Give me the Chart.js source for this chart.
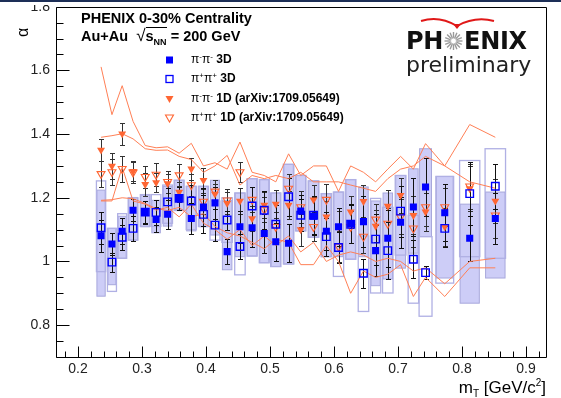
<!DOCTYPE html>
<html>
<head>
<meta charset="utf-8">
<script src="https://cdn.jsdelivr.net/npm/chart.js"></script>
<style>
  html, body { margin: 0; padding: 0; background: #fff; }
  #wrap { position: relative; width: 561px; height: 398px; overflow: hidden; font-family: "Liberation Sans", Arial, sans-serif; }
  #myChart { position: absolute; left: 0; top: 0; }
  .txt { position: absolute; white-space: nowrap; color: #000; }
  .leg { position: absolute; left: 164px; height: 15px; line-height: 15px; font-size: 12px; font-weight: bold; white-space: nowrap; }
  .leg svg { position: absolute; left: 0; top: 2.5px; }
  .leg span.l { position: absolute; left: 27px; top: 0; }
  .leg sup { font-size: 8px; vertical-align: 4px; line-height: 0; }
  .pi { font-weight: normal; }
</style>
</head>
<body>
<div id="wrap">
  <canvas id="myChart" width="561" height="398"></canvas>
  <div style="position:absolute;left:0;top:0;width:561px;height:5px;background:#fff;"></div>
  <div style="position:absolute;left:0;top:0;width:561px;height:2px;background:#1d2f57;"></div>

  <div class="txt" style="left:81px;top:10px;font-size:14.5px;line-height:16px;font-weight:bold;">PHENIX 0-30% Centrality</div>
  <div class="txt" style="left:81px;top:28px;font-size:14.5px;line-height:16px;font-weight:bold;">Au+Au&nbsp;&nbsp;<span style="font-weight:normal;font-size:17px;">&radic;</span><span style="border-top:1px solid #000;">s<sub style="font-size:9px;">NN</sub></span> = 200 GeV</div>

  <div class="leg" style="top:52px;"><svg width="12" height="10"><rect x="2" y="1.5" width="7" height="7" fill="#0000ff"/></svg><span class="l"><span class="pi">&pi;<sup>-</sup>&pi;<sup>-</sup></span> 3D</span></div>
  <div class="leg" style="top:71px;"><svg width="12" height="10"><rect x="2" y="1.5" width="7" height="7" fill="none" stroke="#0000ff" stroke-width="1.3"/></svg><span class="l"><span class="pi">&pi;<sup>+</sup>&pi;<sup>+</sup></span> 3D</span></div>
  <div class="leg" style="top:91px;"><svg width="12" height="10"><path d="M1.5 2 L9.5 2 L5.5 9 Z" fill="#ff6633"/></svg><span class="l"><span class="pi">&pi;<sup>-</sup>&pi;<sup>-</sup></span> 1D (arXiv:1709.05649)</span></div>
  <div class="leg" style="top:110px;"><svg width="12" height="10"><path d="M1.5 2 L9.5 2 L5.5 9 Z" fill="none" stroke="#ff6633" stroke-width="1.1"/></svg><span class="l"><span class="pi">&pi;<sup>+</sup>&pi;<sup>+</sup></span> 1D (arXiv:1709.05649)</span></div>

  <svg style="position:absolute;left:415px;top:13px;" width="85" height="18">
    <path d="M6 8 Q24 2 42 13 Q60 3 79 8" fill="none" stroke="#e01818" stroke-width="2"/>
    <path d="M38 11 L46 11 L42 16 Z" fill="#e01818"/>
  </svg>
  <div class="txt" style="left:406px;top:27px;font-family:'DejaVu Sans';font-weight:bold;font-size:24px;line-height:28px;color:#111;letter-spacing:-0.3px;">PH<svg width="21" height="20" style="vertical-align:-2px;" viewBox="-10 -10 20 20"><g stroke="#9a9a9a" stroke-width="1.4"><line x1="0" y1="-9" x2="0" y2="9"/><line x1="-9" y1="0" x2="9" y2="0"/><line x1="-6.4" y1="-6.4" x2="6.4" y2="6.4"/><line x1="-6.4" y1="6.4" x2="6.4" y2="-6.4"/><line x1="-3.4" y1="-8.3" x2="3.4" y2="8.3"/><line x1="3.4" y1="-8.3" x2="-3.4" y2="8.3"/><line x1="-8.3" y1="-3.4" x2="8.3" y2="3.4"/><line x1="-8.3" y1="3.4" x2="8.3" y2="-3.4"/></g><circle r="3" fill="#fff" stroke="#bbb" stroke-width="1"/></svg>ENIX</div>
  <div class="txt" style="left:406px;top:52px;font-family:'DejaVu Sans';font-size:22px;line-height:26px;color:#222;">preliminary</div>

  <div class="txt" style="left:16px;top:22px;font-size:16px;line-height:16px;transform:rotate(-90deg);transform-origin:7px 8px;">&alpha;</div>
  <div class="txt" style="right:15px;top:373px;font-size:17px;line-height:20px;">m<sub style="font-size:10px;">T</sub> [GeV/c<sup style="font-size:10px;">2</sup>]</div>
</div>

<script>
// tick labels
const xTicks = [0.2, 0.3, 0.4, 0.5, 0.6, 0.7, 0.8, 0.9];
const yTicks = [0.8, 1.0, 1.2, 1.4, 1.6, 1.8];

// bins (mT, GeV/c^2)
const mT = [0.236, 0.253, 0.269, 0.286, 0.305, 0.322, 0.340, 0.358, 0.377, 0.396, 0.414, 0.433, 0.453, 0.472, 0.491, 0.509,
  0.529, 0.548, 0.568, 0.588, 0.607, 0.626, 0.646, 0.665, 0.684, 0.704, 0.724, 0.743, 0.773, 0.812, 0.852];

// pi-pi- 3D
const alphaMM3D = [1.081, 1.055, 1.095, 1.161, 1.154, 1.132, 1.148, 1.198, 1.135, 1.171, 1.184, 1.031, 1.109, 1.106, 1.088, 1.062,
  1.057, 1.158, 1.142, 1.095, 1.109, 1.119, 1.125, 1.034, 1.073, 1.123, 1.171, 1.234, 1.153, 1.073, 1.135];
const errMM3D = [0.05, 0.035, 0.04, 0.035, 0.035, 0.04, 0.045, 0.035, 0.05, 0.06, 0.05, 0.04, 0.05, 0.06, 0.06, 0.06,
  0.06, 0.05, 0.06, 0.06, 0.06, 0.06, 0.08, 0.08, 0.09, 0.08, 0.09, 0.09, 0.09, 0.07, 0.08];
const sysLoMM3D = [0.891, 0.927, 1.010, 1.067, 1.109, 1.090, 1.111, 1.163, 1.096, 1.109, 1.083, 0.974, 1.015, 1.017, 0.996, 0.984,
  0.992, 1.096, 1.076, 1.015, 1.015, 1.007, 1.015, 0.924, 0.945, 0.979, 1.026, 1.078, 0.948, 0.869, 0.948];
const sysHiMM3D = [1.224, 1.104, 1.142, 1.201, 1.208, 1.192, 1.236, 1.255, 1.236, 1.236, 1.255, 1.192, 1.215, 1.260, 1.257, 1.215,
  1.305, 1.270, 1.253, 1.213, 1.218, 1.257, 1.234, 1.190, 1.215, 1.270, 1.291, 1.354, 1.267, 1.180, 1.218];

// pi+pi+ 3D
const alphaPP3D = [1.106, 0.998, 1.076, 1.104, 1.155, 1.154, 1.187, 1.198, 1.190, 1.148, 1.114, 1.130, 1.047, 1.174, 1.161, 1.117,
  1.203, 1.145, 1.145, 1.078, 1.044, 1.117, 0.963, 1.070, 1.034, 1.158, 1.007, 0.965, 1.104, 1.213, 1.236];
const errPP3D = [0.05, 0.03, 0.04, 0.04, 0.035, 0.04, 0.045, 0.035, 0.05, 0.06, 0.05, 0.03, 0.04, 0.06, 0.06, 0.06,
  0.06, 0.05, 0.06, 0.06, 0.05, 0.06, 0.045, 0.08, 0.09, 0.08, 0.06, 0.02, 0.06, 0.10, 0.07];
const sysLoPP3D = [0.968, 0.906, 1.010, 1.067, 1.110, 1.110, 1.120, 1.160, 1.100, 1.110, 1.067, 1.060, 0.958, 1.017, 0.996, 0.984,
  0.992, 1.096, 1.076, 1.015, 0.953, 1.007, 0.843, 0.901, 0.901, 1.020, 0.869, 0.828, 0.932, 1.015, 1.010];
const sysHiPP3D = [1.253, 1.104, 1.150, 1.200, 1.210, 1.210, 1.240, 1.255, 1.236, 1.236, 1.190, 1.200, 1.215, 1.260, 1.257, 1.215,
  1.305, 1.270, 1.253, 1.213, 1.218, 1.257, 1.080, 1.198, 1.170, 1.270, 1.145, 1.078, 1.267, 1.317, 1.354];

// pi-pi- 1D (arXiv:1709.05649)
const alphaMM1D = [1.350, 1.300, 1.401, 1.283, 1.242, 1.248, 1.245, 1.218, 1.291, 1.255, 1.212, 1.183, 1.190, 1.135, 1.177, 1.180,
  1.177, 1.100, 1.194, 1.140, 1.109, 1.156, 1.189, 1.111, 1.174, 1.208, 1.145, 1.156, 1.109, 1.229, 1.190];
const errMM1D = [0.035, 0.04, 0.035, 0.03, 0.035, 0.03, 0.03, 0.03, 0.035, 0.04, 0.03, 0.035, 0.04, 0.04, 0.04, 0.045,
  0.045, 0.05, 0.045, 0.05, 0.05, 0.05, 0.05, 0.05, 0.05, 0.055, 0.06, 0.06, 0.06, 0.07, 0.07];
const sysHiMM1D = [1.611, 1.461, 1.552, 1.440, 1.364, 1.357, 1.360, 1.340, 1.371, 1.300, 1.310, 1.290, 1.375, 1.280, 1.270, 1.250,
  1.338, 1.270, 1.300, 1.300, 1.220, 1.300, 1.280, 1.250, 1.290, 1.330, 1.290, 1.370, 1.300, 1.430, 1.390];
const sysLoMM1D = [1.192, 1.194, 1.200, 1.197, 1.182, 1.166, 1.160, 1.170, 1.140, 1.150, 1.110, 1.090, 1.080, 1.060, 1.040, 1.070,
  1.060, 0.990, 0.990, 1.050, 1.000, 0.900, 0.970, 0.950, 0.960, 0.990, 0.890, 0.950, 0.890, 0.980, 0.980];

// pi+pi+ 1D (arXiv:1709.05649)
const alphaPP1D = [1.275, 1.281, 1.291, 1.280, 1.266, 1.273, 1.250, 1.271, 1.240, 1.188, 1.220, 1.192, 1.281, 1.194, 1.163, 1.109,
  1.229, 1.171, 1.109, 1.194, 1.047, 1.109, 1.078, 1.132, 1.119, 1.140, 1.104, 1.171, 1.171, 1.236, 1.145];
const errPP1D = [0.04, 0.04, 0.04, 0.035, 0.035, 0.035, 0.035, 0.035, 0.035, 0.04, 0.035, 0.035, 0.03, 0.04, 0.04, 0.045,
  0.045, 0.05, 0.045, 0.05, 0.05, 0.05, 0.05, 0.05, 0.05, 0.055, 0.06, 0.06, 0.06, 0.07, 0.07];
const sysHiPP1D = [1.390, 1.395, 1.401, 1.385, 1.354, 1.349, 1.350, 1.330, 1.320, 1.280, 1.300, 1.333, 1.240, 1.270, 1.260, 1.270,
  1.260, 1.280, 1.250, 1.250, 1.250, 1.240, 1.230, 1.220, 1.260, 1.290, 1.300, 1.330, 1.300, 1.250, 1.230];
const sysLoPP1D = [1.190, 1.190, 1.296, 1.190, 1.180, 1.161, 1.170, 1.140, 1.180, 1.120, 1.100, 1.070, 1.100, 1.050, 1.080, 1.050,
  1.080, 1.030, 1.060, 1.000, 1.020, 1.030, 1.020, 1.000, 1.010, 1.000, 0.970, 0.980, 0.930, 1.000, 1.010];

const pts = (ys) => mT.map((x, i) => ({ x: x, y: ys[i] }));

const BLUE = "#0000ff";
const ORANGE = "#ff6633";
const LINE = "#ff7f55";

// systematic boxes + stat error bars, drawn under the markers
const boxesAndBars = {
  id: "boxesAndBars",
  beforeDatasetsDraw(chart) {
    const { ctx, scales: { x, y } } = chart;
    const px = mT.map((v) => x.getPixelForValue(v));
    const halfW = (i) => {
      const d = [];
      if (i > 0) d.push(px[i] - px[i - 1]);
      if (i < px.length - 1) d.push(px[i + 1] - px[i]);
      return 0.38 * d.reduce((a, b) => a + b, 0) / d.length;
    };
    ctx.save();
    ctx.lineWidth = 1;
    mT.forEach((v, i) => {
      const w = halfW(i);
      const t = y.getPixelForValue(sysHiMM3D[i]);
      const b = y.getPixelForValue(sysLoMM3D[i]);
      ctx.fillStyle = "#cdcdf7";
      ctx.fillRect(px[i] - w, t, 2 * w, b - t);
      ctx.strokeStyle = "#a8a8dc";
      ctx.strokeRect(px[i] - w, t, 2 * w, b - t);
    });
    mT.forEach((v, i) => {
      const w = halfW(i) + 0.5;
      const t = y.getPixelForValue(sysHiPP3D[i]);
      const b = y.getPixelForValue(sysLoPP3D[i]);
      ctx.strokeStyle = "#b0b0e4";
      ctx.lineWidth = 1.3;
      ctx.strokeRect(px[i] - w, t, 2 * w, b - t);
    });
    const series = [
      [alphaMM1D, errMM1D, "#333"],
      [alphaPP1D, errPP1D, "#333"],
      [alphaMM3D, errMM3D, "#111"],
      [alphaPP3D, errPP3D, "#111"],
    ];
    ctx.lineWidth = 1;
    series.forEach(([vals, errs, col]) => {
      ctx.strokeStyle = col;
      ctx.beginPath();
      vals.forEach((v, i) => {
        const cx = Math.round(px[i]) + 0.5;
        const t = Math.round(y.getPixelForValue(v + errs[i])) + 0.5;
        const b = Math.round(y.getPixelForValue(v - errs[i])) + 0.5;
        ctx.moveTo(cx, t); ctx.lineTo(cx, b);
        ctx.moveTo(cx - 2.5, t); ctx.lineTo(cx + 2.5, t);
        ctx.moveTo(cx - 2.5, b); ctx.lineTo(cx + 2.5, b);
      });
      ctx.stroke();
    });
    ctx.restore();
  },
};

// ROOT-like frame with ticks pointing inward
const frameTicks = {
  id: "frameTicks",
  afterDatasetsDraw(chart) {
    const { ctx, chartArea: a, scales: { x, y } } = chart;
    ctx.save();
    ctx.strokeStyle = "#000";
    ctx.lineWidth = 1;
    const L = Math.round(a.left) + 0.5, R = Math.round(a.right) + 0.5;
    const T = Math.round(a.top) + 0.5, B = Math.round(a.bottom) + 0.5;
    ctx.beginPath();
    ctx.rect(L, T, R - L, B - T);
    for (let k = 14; k <= 36; k++) {
      const py = Math.round(y.getPixelForValue(k * 0.05)) + 0.5;
      const len = k % 4 === 0 ? 13 : 7;
      ctx.moveTo(L, py); ctx.lineTo(L + len, py);
    }
    for (let k = 9; k <= 46; k++) {
      const xx = Math.round(x.getPixelForValue(k * 0.02)) + 0.5;
      const len = k % 5 === 0 ? 11 : 6;
      ctx.moveTo(xx, B); ctx.lineTo(xx, B - len);
    }
    ctx.stroke();
    ctx.restore();
  },
};

const ctx = document.getElementById("myChart");

const myChart = new Chart(ctx, {
  type: "scatter",
  data: {
    datasets: [
      { label: "pi-pi- 3D", data: pts(alphaMM3D), pointStyle: "rect", pointRadius: 5, backgroundColor: BLUE, borderColor: BLUE, borderWidth: 0 },
      { label: "pi+pi+ 3D", data: pts(alphaPP3D), pointStyle: "rect", pointRadius: 5.3, backgroundColor: "rgba(0,0,0,0)", borderColor: BLUE, borderWidth: 1.4 },
      { label: "pi-pi- 1D", data: pts(alphaMM1D), pointStyle: "triangle", rotation: 180, pointRadius: 4.6, backgroundColor: ORANGE, borderColor: ORANGE, borderWidth: 0 },
      { label: "pi+pi+ 1D", data: pts(alphaPP1D), pointStyle: "triangle", rotation: 180, pointRadius: 4.6, backgroundColor: "rgba(0,0,0,0)", borderColor: ORANGE, borderWidth: 1.1 },
      { label: "pi-pi- 1D sys hi", data: pts(sysHiMM1D), showLine: true, pointRadius: 0, borderColor: LINE, borderWidth: 1 },
      { label: "pi-pi- 1D sys lo", data: pts(sysLoMM1D), showLine: true, pointRadius: 0, borderColor: LINE, borderWidth: 1 },
      { label: "pi+pi+ 1D sys hi", data: pts(sysHiPP1D), showLine: true, pointRadius: 0, borderColor: LINE, borderWidth: 1 },
      { label: "pi+pi+ 1D sys lo", data: pts(sysLoPP1D), showLine: true, pointRadius: 0, borderColor: LINE, borderWidth: 1 },
    ],
  },
  options: {
    responsive: false,
    animation: false,
    devicePixelRatio: 1,
    layout: { padding: { left: 0, top: 5, right: 15, bottom: 0 } },
    plugins: {
      legend: { display: false },
      tooltip: { enabled: false },
    },
    scales: {
      x: {
        type: "linear",
        min: 0.1656,
        max: 0.9312,
        grid: { display: false, drawTicks: false },
        border: { display: false },
        afterBuildTicks: (s) => { s.ticks = xTicks.map((v) => ({ value: v })); },
        afterFit: (s) => { s.height = 41; s.paddingLeft = 0; s.paddingRight = 0; },
        ticks: {
          padding: 4,
          color: "#222",
          font: { family: "Liberation Sans", size: 14 },
          maxRotation: 0,
          callback: (v) => v.toFixed(1),
        },
      },
      y: {
        type: "linear",
        min: 0.7,
        max: 1.8,
        grid: { display: false, drawTicks: false },
        border: { display: false },
        afterBuildTicks: (s) => { s.ticks = yTicks.map((v) => ({ value: v })); },
        afterFit: (s) => { s.width = 56; s.paddingTop = 0; s.paddingBottom = 0; },
        ticks: {
          padding: 6,
          color: "#222",
          font: { family: "Liberation Sans", size: 14 },
          callback: (v) => String(Math.round(v * 10) / 10),
        },
      },
    },
  },
  plugins: [boxesAndBars, frameTicks],
});
</script>
</body>
</html>
